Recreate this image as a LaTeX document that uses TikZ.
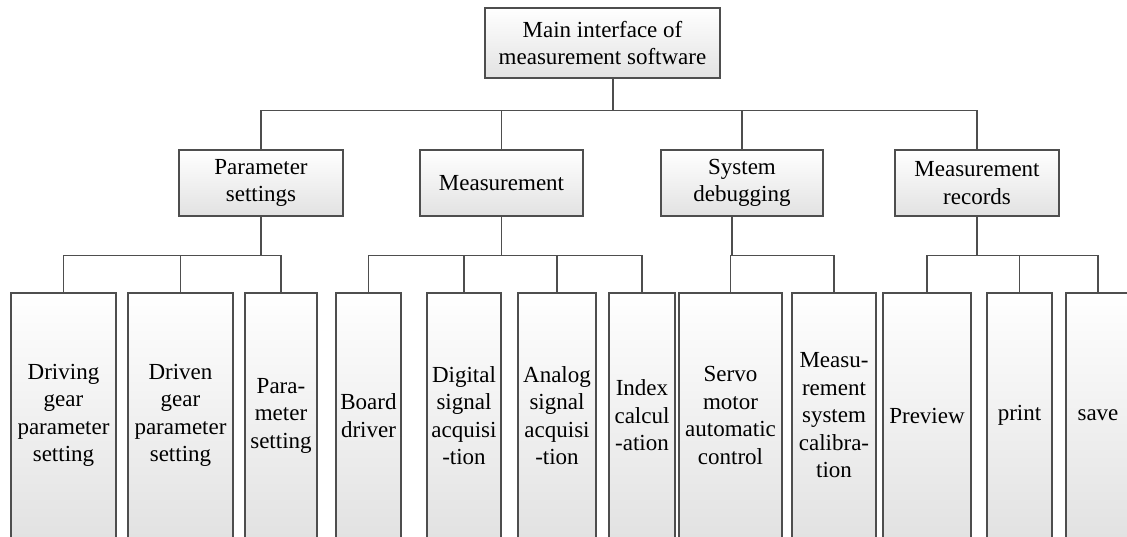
\documentclass[tikz,border=0pt]{standalone}
\usepackage{fontspec}
\setmainfont{Liberation Serif}
\usetikzlibrary{positioning}
\definecolor{edge}{HTML}{4E4E4E}
\definecolor{shade}{HTML}{E2E2E2}

\begin{document}
\begin{tikzpicture}[x=1pt,y=-1pt,
  box/.style={draw=edge,line width=1.2pt,top color=white,bottom color=shade,
    inner sep=0pt,align=center,font=\fontsize{23}{27.5}\selectfont},
  head/.style={box,minimum height=66pt},
  leaf/.style={box,minimum height=245pt},
  wire/.style={draw=edge,line width=1.2pt}
]
\useasboundingbox (0,0) rectangle (1127,536);
% top
\node[box,minimum width=235pt,minimum height=70pt] (main) at (602.5,43)
  {Main interface of\\measurement software};
% second row
\node[head,minimum width=164pt] (param) at (261,183) {Parameter\\settings};
\node[head,minimum width=163pt] (measure) at (501.5,183) {Measurement};
\node[head,minimum width=162pt] (debug) at (742,183) {System\\debugging};
\node[head,minimum width=164pt] (records) at (977,183) {Measurement\\records};
% third row
\node[leaf,minimum width=105pt] (drivegear) at (63.5,415.5) {Driving\\gear\\parameter\\setting};
\node[leaf,minimum width=105pt] (drivengear) at (180.5,415.5) {Driven\\gear\\parameter\\setting};
\node[leaf,minimum width=72pt] (paraset) at (281,415.5) {Para-\\meter\\setting};
\node[leaf,minimum width=65pt] (board) at (368.5,415.5) {Board\\driver};
\node[leaf,minimum width=74pt] (digital) at (464,415.5) {Digital\\signal\\acquisi\\-tion};
\node[leaf,minimum width=78pt] (analog) at (557,415.5) {Analog\\signal\\acquisi\\-tion};
\node[leaf,minimum width=66pt] (index) at (642,415.5) {Index\\calcul\\-ation};
\node[leaf,minimum width=103pt] (servo) at (730.5,415.5) {Servo\\motor\\automatic\\control};
\node[leaf,minimum width=84pt] (calib) at (834,415.5) {Measu-\\rement\\system\\calibra-\\tion};
\node[leaf,minimum width=88pt] (preview) at (927,415.5) {Preview};
\node[leaf,minimum width=65pt] (print) at (1019.5,415.5) {print};
\node[leaf,minimum width=64pt] (save) at (1098,415.5) {save};
% connectors
\foreach \n in {param,measure,debug,records}
  \draw[wire] ([xshift=10.5pt]main.south) -- ++(0,32) -| (\n.north);
\foreach \n in {drivegear,drivengear,paraset}
  \draw[wire] (param.south) -- ++(0,39) -| (\n.north);
\foreach \n in {board,digital,analog,index}
  \draw[wire] (measure.south) -- ++(0,39) -| (\n.north);
\foreach \n in {servo,calib}
  \draw[wire] ([xshift=-10pt]debug.south) -- ++(0,39) -| (\n.north);
\foreach \n in {preview,print,save}
  \draw[wire] (records.south) -- ++(0,39) -| (\n.north);
\end{tikzpicture}
\end{document}
